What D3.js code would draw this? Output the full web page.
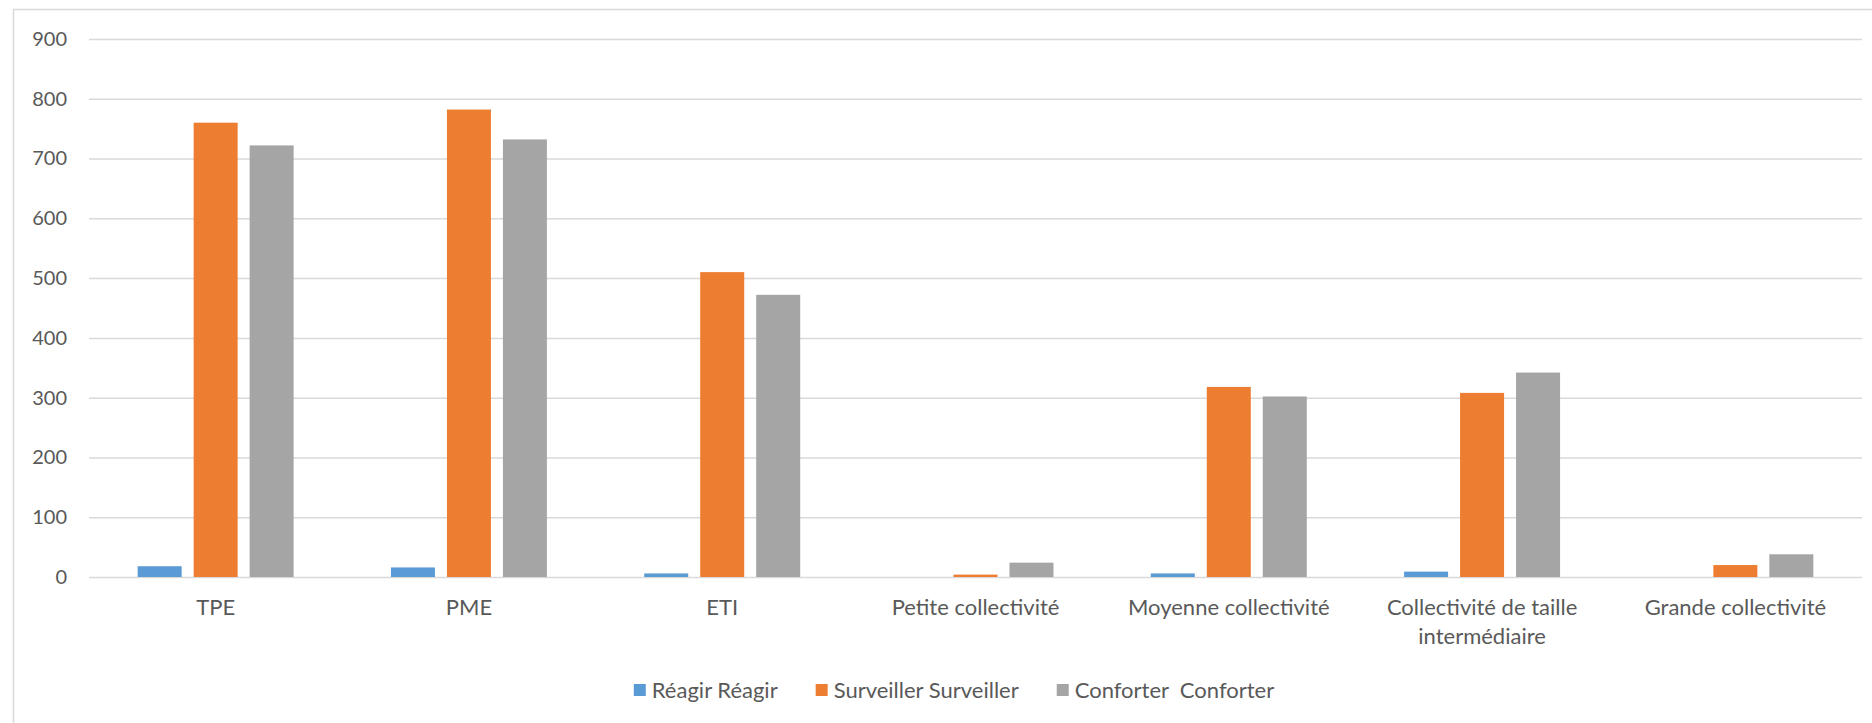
<!DOCTYPE html>
<html>
<head>
  <meta charset="utf-8">
  <script src="https://d3js.org/d3.v7.min.js"></script>
  <style>
    body { margin: 0; background: #fff; overflow: hidden; }
    text { font-family: "Lato", "Open Sans", sans-serif; fill: #595959; }
  </style>
  <title>Réagir / Surveiller / Conforter</title>
</head>
<body>
  <script>
    // Data
    const categories = ["TPE", "PME", "ETI", "Petite collectivité", "Moyenne collectivité",
      "Collectivité de taille intermédiaire", "Grande collectivité"];
    const seriesNames = ["Réagir Réagir", "Surveiller Surveiller", "Conforter  Conforter"];
    const reagir = [18, 16, 6, 0, 6, 9, 0];
    const surveiller = [760, 782, 510, 4, 318, 308, 20];
    const conforter = [722, 732, 472, 24, 302, 342, 38];
    const yTicks = [0, 100, 200, 300, 400, 500, 600, 700, 800, 900];
    const colors = ["#5B9BD5", "#ED7D31", "#A5A5A5"];

    const W = 1872, H = 723;
    const plot = { left: 89, right: 1862, top: 39, bottom: 577 };

    const svg = d3.select("body").append("svg")
      .attr("width", W)
      .attr("height", H);

    // chart border (only left + top are visible in the picture)
    svg.append("line").attr("x1", 13.5).attr("x2", 13.5).attr("y1", 9).attr("y2", H)
      .attr("stroke", "#d9d9d9").attr("stroke-width", 1.5);
    svg.append("line").attr("x1", 13).attr("x2", W).attr("y1", 9.5).attr("y2", 9.5)
      .attr("stroke", "#d9d9d9").attr("stroke-width", 1.5);

    // scales
    const x0 = d3.scaleBand()
      .domain(categories)
      .range([plot.left, plot.right])
      .padding(0);

    const x1 = d3.scaleBand()
      .domain(seriesNames)
      .range([0, x0.bandwidth()])
      .paddingInner(0.214)
      .paddingOuter(0.869);

    const y = d3.scaleLinear()
      .domain([0, 900])
      .range([plot.bottom, plot.top]);

    // gridlines
    const grid = svg.append("g")
      .attr("transform", "translate(" + plot.left + ",0)")
      .call(d3.axisLeft(y).tickValues(yTicks).tickSize(-(plot.right - plot.left)).tickFormat(""));
    grid.select(".domain").remove();
    grid.selectAll("line").attr("stroke", "#d9d9d9").attr("stroke-width", 1.5);

    // y labels
    const yAxis = svg.append("g")
      .attr("transform", "translate(" + plot.left + ",0)")
      .call(d3.axisLeft(y).tickValues(yTicks).tickSize(0).tickPadding(22));
    yAxis.select(".domain").remove();
    yAxis.selectAll("text")
      .style("font-size", "20px")
      .style("font-family", "Lato")
      .attr("fill", "#595959");

    // bars
    const table = categories.map(function (c, i) {
      return { cat: c, vals: [reagir[i], surveiller[i], conforter[i]] };
    });

    const groups = svg.selectAll(".cat")
      .data(table)
      .enter()
      .append("g")
      .attr("class", "cat")
      .attr("transform", function (d) { return "translate(" + x0(d.cat) + ",0)"; });

    groups.selectAll("rect")
      .data(function (d) {
        return d.vals.map(function (v, k) { return { s: seriesNames[k], v: v, k: k }; });
      })
      .enter()
      .append("rect")
      .attr("x", function (d) { return x1(d.s); })
      .attr("y", function (d) { return y(d.v); })
      .attr("width", x1.bandwidth())
      .attr("height", function (d) { return y(0) - y(d.v); })
      .attr("fill", function (d) { return colors[d.k]; });

    // x labels (wrapped like Excel)
    const xAxis = svg.append("g")
      .attr("transform", "translate(0," + plot.bottom + ")")
      .call(d3.axisBottom(x0).tickSize(0).tickPadding(22));
    xAxis.select(".domain").remove();
    xAxis.selectAll("text")
      .style("font-size", "22px")
      .attr("fill", "#595959")
      .call(wrap, 240);

    function wrap(sel, maxW) {
      sel.each(function () {
        const t = d3.select(this);
        const words = t.text().split(/\s+/);
        const x = t.attr("x") || 0;
        t.text(null);
        let line = [];
        let tspan = t.append("tspan").attr("x", x).attr("dy", "0.71em");
        words.forEach(function (w) {
          line.push(w);
          tspan.text(line.join(" "));
          if (tspan.node().getComputedTextLength() > maxW && line.length > 1) {
            line.pop();
            tspan.text(line.join(" "));
            line = [w];
            tspan = t.append("tspan").attr("x", x).attr("dy", "29px").text(w);
          }
        });
      });
    }

    // legend
    const legend = svg.append("g").attr("transform", "translate(0,690)");
    const items = legend.selectAll(".li")
      .data(seriesNames)
      .enter()
      .append("g")
      .attr("class", "li");
    items.append("rect")
      .attr("y", -6)
      .attr("width", 12)
      .attr("height", 12)
      .attr("fill", function (d, i) { return colors[i]; });
    items.append("text")
      .attr("x", 18)
      .attr("dy", "0.35em")
      .style("font-size", "22px")
      .style("white-space", "pre")
      .attr("xml:space", "preserve")
      .text(function (d) { return d; });

    let widths = [];
    items.each(function () {
      widths.push(18 + d3.select(this).select("text").node().getComputedTextLength());
    });
    const gap = 38;
    const total = d3.sum(widths) + gap * (widths.length - 1);
    let cx = 954 - total / 2;
    items.attr("transform", function (d, i) {
      const pos = cx;
      cx += widths[i] + gap;
      return "translate(" + pos + ",0)";
    });
  </script>
</body>
</html>
